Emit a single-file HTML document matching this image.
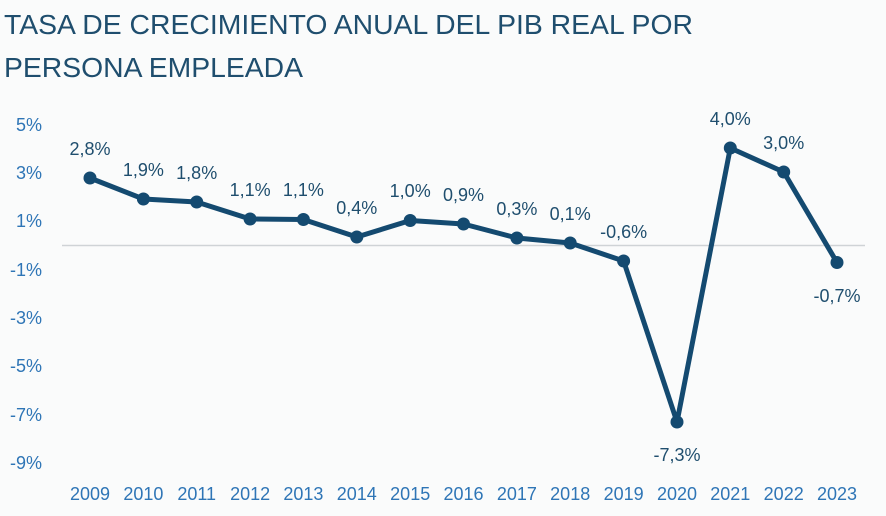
<!DOCTYPE html>
<html><head><meta charset="utf-8"><style>
body{margin:0;background:#fafbfb;}
svg{display:block;font-family:"Liberation Sans",sans-serif;}
</style></head><body>
<svg width="886" height="516" viewBox="0 0 886 516">
<rect width="886" height="516" fill="#fafbfb"/>
<text x="4" y="34" font-size="28" fill="#1f4e6e" textLength="689" lengthAdjust="spacingAndGlyphs">TASA DE CRECIMIENTO ANUAL DEL PIB REAL POR</text>
<text x="4" y="77" font-size="28" fill="#1f4e6e" textLength="299" lengthAdjust="spacingAndGlyphs">PERSONA EMPLEADA</text>
<g font-size="18" fill="#2e75b6" text-anchor="end">
<text x="42" y="131">5%</text><text x="42" y="179">3%</text><text x="42" y="227">1%</text>
<text x="42" y="276">-1%</text><text x="42" y="324">-3%</text><text x="42" y="372">-5%</text>
<text x="42" y="421">-7%</text><text x="42" y="469">-9%</text>
</g>
<line x1="62" y1="245.5" x2="865" y2="245.5" stroke="#cfd3d6" stroke-width="1.5"/>
<g font-size="18" fill="#2e75b6" text-anchor="middle">
<text x="90" y="500">2009</text><text x="143.4" y="500">2010</text><text x="196.7" y="500">2011</text>
<text x="250.1" y="500">2012</text><text x="303.4" y="500">2013</text><text x="356.8" y="500">2014</text>
<text x="410.2" y="500">2015</text><text x="463.5" y="500">2016</text><text x="516.9" y="500">2017</text>
<text x="570.2" y="500">2018</text><text x="623.6" y="500">2019</text><text x="677" y="500">2020</text>
<text x="730.3" y="500">2021</text><text x="783.7" y="500">2022</text><text x="837" y="500">2023</text>
</g>
<polyline fill="none" stroke="#144a70" stroke-width="5" stroke-linejoin="round"
points="90,178 143.4,199 196.7,202 250.1,219 303.4,219.5 356.8,237 410.2,220.5 463.5,224 516.9,238 570.2,243 623.6,261 677,422 730.3,148 783.7,172 837,262.5"/>
<g fill="#144a70">
<circle cx="90" cy="178" r="6.5"/><circle cx="143.4" cy="199" r="6.5"/><circle cx="196.7" cy="202" r="6.5"/>
<circle cx="250.1" cy="219" r="6.5"/><circle cx="303.4" cy="219.5" r="6.5"/><circle cx="356.8" cy="237" r="6.5"/>
<circle cx="410.2" cy="220.5" r="6.5"/><circle cx="463.5" cy="224" r="6.5"/><circle cx="516.9" cy="238" r="6.5"/>
<circle cx="570.2" cy="243" r="6.5"/><circle cx="623.6" cy="261" r="6.5"/><circle cx="677" cy="422" r="6.5"/>
<circle cx="730.3" cy="148" r="6.5"/><circle cx="783.7" cy="172" r="6.5"/><circle cx="837" cy="262.5" r="6.5"/>
</g>
<g font-size="18" fill="#1f4e6e" text-anchor="middle">
<text x="90" y="155">2,8%</text><text x="143.4" y="176">1,9%</text><text x="196.7" y="179">1,8%</text>
<text x="250.1" y="196">1,1%</text><text x="303.4" y="196">1,1%</text><text x="356.8" y="214">0,4%</text>
<text x="410.2" y="197">1,0%</text><text x="463.5" y="201">0,9%</text><text x="516.9" y="215">0,3%</text>
<text x="570.2" y="220">0,1%</text><text x="623.6" y="238">-0,6%</text><text x="677" y="461">-7,3%</text>
<text x="730.3" y="125">4,0%</text><text x="783.7" y="149">3,0%</text><text x="837" y="302">-0,7%</text>
</g>
</svg>
</body></html>
